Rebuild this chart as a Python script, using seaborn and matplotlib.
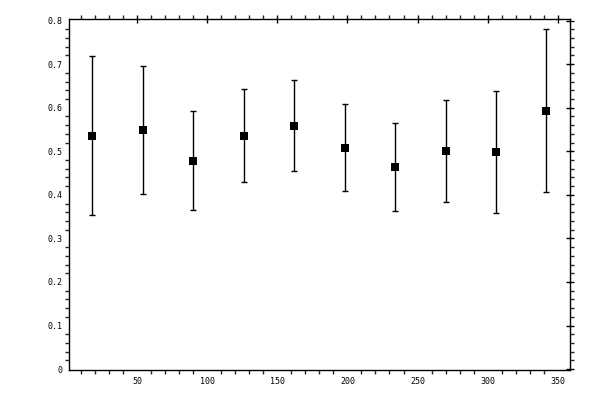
import numpy as np
import pandas as pd
import matplotlib
matplotlib.use('Agg')
import matplotlib.pyplot as plt
from matplotlib.ticker import MultipleLocator
import seaborn as sns

# bin centres and values
x_centers = [18, 54, 90, 126, 162, 198, 234, 270, 306, 342]
mean_vals = [0.535, 0.549, 0.477, 0.535, 0.558, 0.507, 0.464, 0.500, 0.498, 0.592]
upper_vals = [0.719, 0.696, 0.593, 0.643, 0.664, 0.609, 0.565, 0.618, 0.638, 0.781]
lower_vals = [0.353, 0.402, 0.365, 0.429, 0.454, 0.408, 0.363, 0.383, 0.358, 0.406]

df = pd.DataFrame({'x': x_centers, 'y': mean_vals, 'hi': upper_vals, 'lo': lower_vals})

sns.set_style('white')
plt.rcParams['font.family'] = ['DejaVu Sans Mono']

fig = plt.figure(figsize=(6, 4), dpi=100)
ax = fig.add_axes([0.115, 0.075, 0.835, 0.877])

yerr = np.array([df['y'] - df['lo'], df['hi'] - df['y']])
ax.errorbar(df['x'], df['y'], yerr=yerr, fmt='none', ecolor='black',
            elinewidth=1.0, capsize=2, capthick=1.0)
sns.scatterplot(data=df, x='x', y='y', marker='s', s=26, color='black',
                edgecolor='black', linewidth=0, ax=ax, zorder=3)

ax.set_xlim(1.3, 358.8)
ax.set_ylim(-0.002, 0.803)
ax.xaxis.set_major_locator(MultipleLocator(50))
ax.xaxis.set_minor_locator(MultipleLocator(10))
ax.yaxis.set_major_locator(MultipleLocator(0.1))
ax.yaxis.set_minor_locator(MultipleLocator(0.02))
ax.yaxis.set_major_formatter(plt.FuncFormatter(lambda v, p: '0' if abs(v) < 1e-9 else f'{v:.1f}'))

ax.tick_params(which='major', direction='inout', length=5.5, width=1.0,
               top=True, right=True, labelsize=6, pad=2, colors='black')
ax.tick_params(which='minor', direction='out', length=2.6, width=1.0,
               top=True, right=True, bottom=True, left=True)
for s in ax.spines.values():
    s.set_color('black')
    s.set_linewidth(1.0)

ax.set_xlabel('')
ax.set_ylabel('')

fig.savefig('out.png', dpi=100)
